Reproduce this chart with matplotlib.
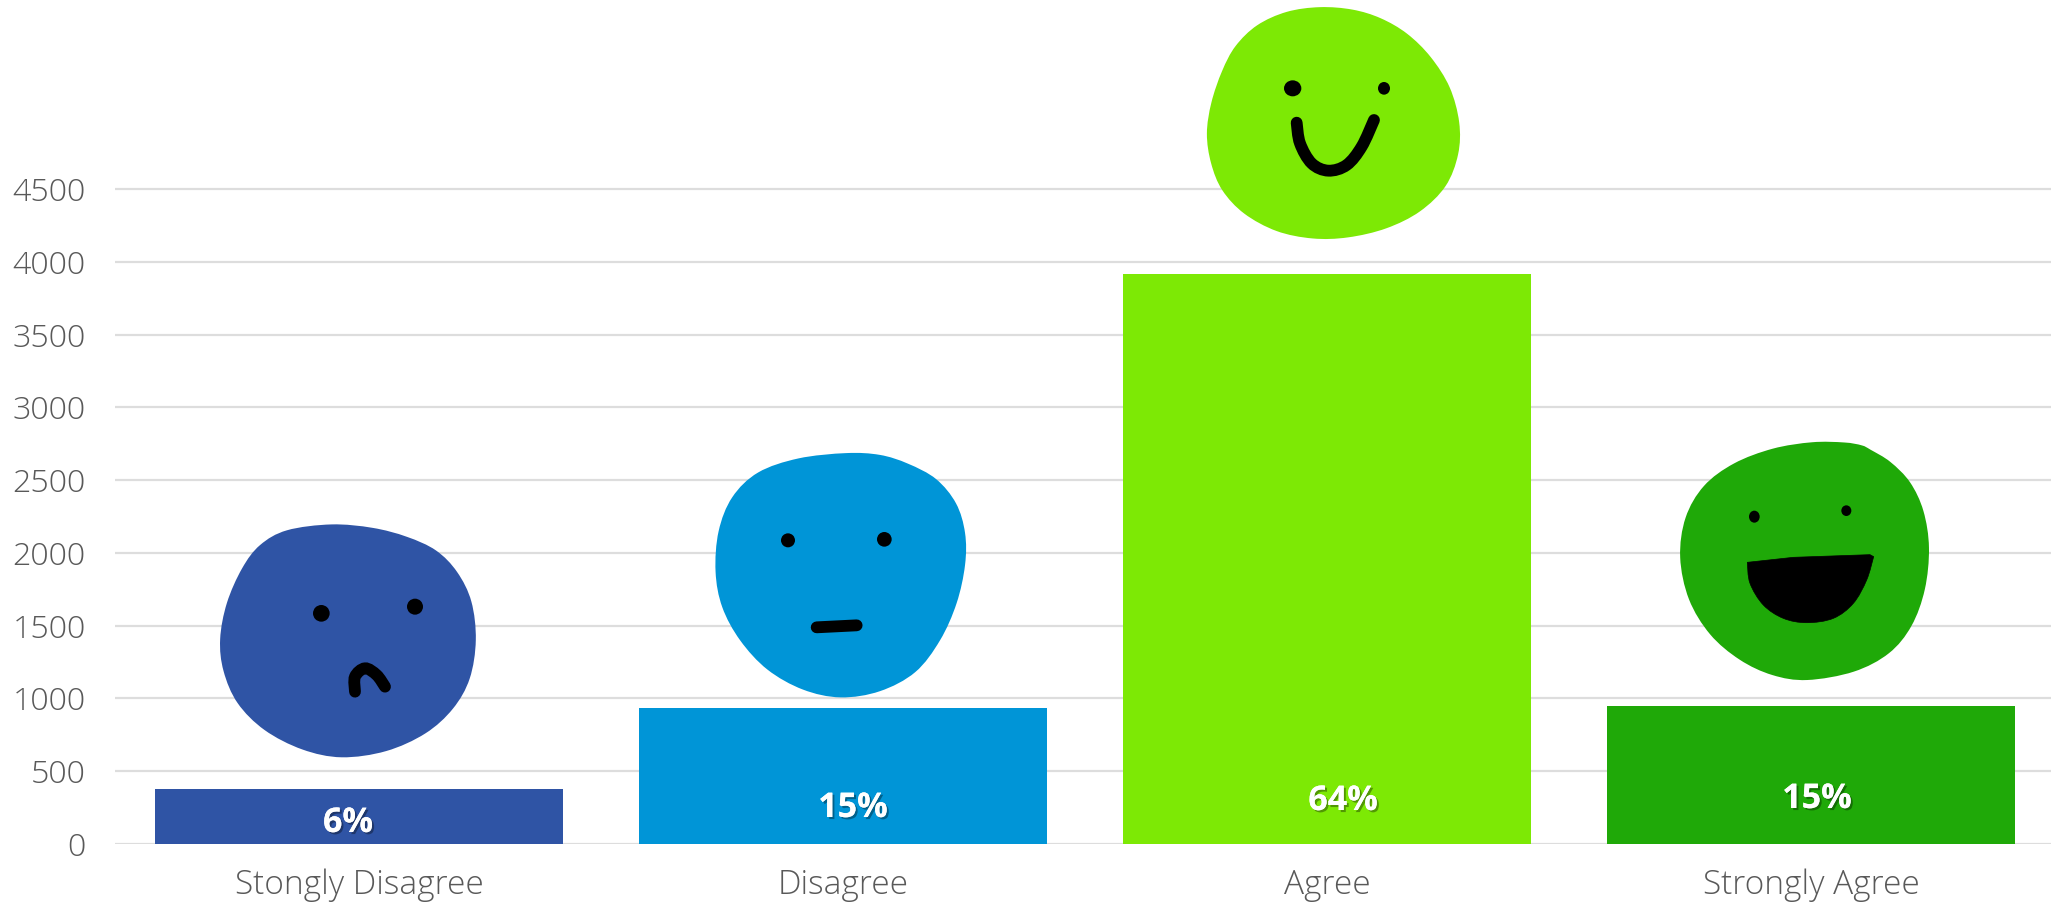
#Bar chart of survey answers with a hand drawn face above each bar
import matplotlib
matplotlib.use('Agg')
import matplotlib.pyplot as plt
import matplotlib.patheffects as pe
import numpy as np
from matplotlib.patches import Ellipse, PathPatch
from matplotlib.path import Path
from matplotlib.transforms import Affine2D

W, H = 2051, 902

categories = ['Stongly Disagree', 'Disagree', 'Agree', 'Strongly Agree']
counts = [375, 937, 3920, 945]
share_labels = ['6%', '15%', '64%', '15%']
bar_colors = ['#2F54A5', '#0095D7', '#7DE905', '#1FA908']
y_ticks = [0, 500, 1000, 1500, 2000, 2500, 3000, 3500, 4000, 4500]

#Pixel positions of the share labels
share_pos = [(348, 823), (853, 808), (1343, 801), (1817, 799)]

#Face sketches in pixels, each given as origin + points at 3x
sad_origin = (200, 500)
sad_outline = [(400,72),(520,85),(620,112),(710,150),(770,215),(815,300),(828,420),(810,540),(760,625),(680,700),(560,755),(420,775),(310,750),(190,690),(110,610),(70,510),(60,420),(80,310),(130,200),(180,135),(250,90)]
sad_eyes = [(364,340,25,25),(645,320,24,24)]
sad_mouth = [(465,575),(465,530),(495,505),(530,525),(555,560)]

flat_origin = (700, 440)
flat_outline = [(450,40),(540,45),(620,72),(710,115),(770,190),(795,280),(795,370),(770,490),(720,600),(650,700),(540,755),(420,775),(310,750),(200,690),(120,600),(65,500),(47,400),(55,270),(95,170),(170,95),(290,55)]
flat_eyes = [(264,301,21,21),(553,298,22,22)]
flat_mouth = [(350,562),(410,559),(470,556)]

smile_origin = (1180, 0)
smile_outline = [(420,22),(520,30),(600,55),(680,100),(750,170),(810,260),(838,370),(835,460),(800,560),(720,635),(620,685),(500,712),(400,715),(290,695),(190,640),(125,570),(95,490),(80,400),(95,310),(130,210),(165,140),(230,75),(320,35)]
smile_eyes = [(338,265,26,24),(612,265,18,19)]
smile_mouth = [(350,368),(360,430),(395,490),(445,512),(500,495),(545,440),(582,360)]

grin_origin = (1660, 430)
grin_outline = [(460,37),(560,40),(610,50),(620,58),(690,95),(750,155),(790,240),(808,350),(795,480),(755,590),(690,670),(590,725),(430,753),(340,735),(240,690),(150,615),(85,510),(58,380),(75,260),(130,165),(220,100),(340,55)]
grin_eyes = [(283,260,16,18),(559,242,15,16)]
grin_mouth_top = [(262,397),(400,382),(630,374)]
grin_mouth_curve = [(641,380),(620,450),(580,520),(520,565),(440,578),(370,565),(310,525),(270,460),(262,397)]


def to_px(points, origin):
    return np.array(points, dtype=float) / 3 + origin


def smooth_closed(pts):
    #Take the wobble out of a traced outline, growing it back a little after
    out = (np.roll(pts, 1, axis=0) + 4*pts + np.roll(pts, -1, axis=0)) / 6
    mid = out.mean(axis=0)
    return mid + (out - mid) * 1.012


def spline_path(pts, closed):
    #Catmull-Rom through the points, written as cubic bezier segments
    n = len(pts)
    verts = [pts[0]]
    codes = [Path.MOVETO]
    for i in range(n if closed else n - 1):
        if closed:
            p0, p1, p2, p3 = pts[(i-1) % n], pts[i], pts[(i+1) % n], pts[(i+2) % n]
        else:
            p0, p1, p2, p3 = pts[max(i-1, 0)], pts[i], pts[i+1], pts[min(i+2, n-1)]
        verts += [p1 + (p2 - p0) / 6, p2 - (p3 - p1) / 6, p2]
        codes += [Path.CURVE4] * 3
    return Path(verts, codes)


fig = plt.figure(figsize=(W/100, H/100), dpi=100)
ax = fig.add_axes([115/W, 1 - 844/H, 1 - 115/W, 844/H])

ax.bar(range(4), counts, width=0.843, color=bar_colors, zorder=2)

ax.set_xlim(-0.505, 3.495)
ax.set_ylim(0, 5800)
ax.set_yticks(y_ticks)
ax.set_xticks(range(4))
ax.set_xticklabels(categories, fontsize=24, family='Open Sans', weight='light', color='#595959')
ax.set_yticklabels([str(v) for v in y_ticks], fontsize=23.2, family='Open Sans', weight='light', color='#595959')
ax.tick_params(axis='both', length=0)
ax.tick_params(axis='y', pad=21)
ax.tick_params(axis='x', pad=18)
ax.grid(axis='y', color='#DDDDDD', linewidth=1.6, zorder=0)
ax.set_axisbelow(True)
for s in ax.spines.values():
    s.set_visible(False)

#Everything below is placed in image pixels, y going down
px = Affine2D().scale(1/W, -1/H).translate(0, 1) + fig.transFigure

faces = [
    (sad_origin, sad_outline, sad_eyes, sad_mouth, bar_colors[0]),
    (flat_origin, flat_outline, flat_eyes, flat_mouth, bar_colors[1]),
    (smile_origin, smile_outline, smile_eyes, smile_mouth, bar_colors[2]),
    (grin_origin, grin_outline, grin_eyes, None, bar_colors[3]),
]
for origin, outline, eyes, mouth, color in faces:
    ax.add_patch(PathPatch(spline_path(smooth_closed(to_px(outline, origin)), True), facecolor=color,
                           edgecolor='none', transform=px, zorder=3, clip_on=False))
    for ex, ey, rx, ry in eyes:
        cx, cy = to_px([(ex, ey)], origin)[0]
        ax.add_patch(Ellipse((cx, cy), 2*rx/3, 2*ry/3, facecolor='black', edgecolor='none',
                             transform=px, zorder=4, clip_on=False))
    if mouth is not None:
        ax.add_patch(PathPatch(spline_path(to_px(mouth, origin), False), facecolor='none',
                               edgecolor='black', linewidth=8.5, capstyle='round',
                               transform=px, zorder=4, clip_on=False))

#The open mouth is a straight top edge closed by a curve
curve = spline_path(to_px(grin_mouth_curve, grin_origin), False)
top = to_px(grin_mouth_top, grin_origin)
grin_verts = np.vstack([curve.vertices, top[1:], curve.vertices[:1]])
grin_codes = list(curve.codes) + [Path.LINETO] * 3
ax.add_patch(PathPatch(Path(grin_verts, grin_codes), facecolor='black', edgecolor='black', linewidth=0.5,
                       joinstyle='round', transform=px, zorder=4, clip_on=False))

shadow = [pe.withSimplePatchShadow(offset=(1.5, -1.5), shadow_rgbFace='black', alpha=0.35), pe.Normal()]
for (x, y), label in zip(share_pos, share_labels):
    ax.text(x, y, label, transform=px, ha='center', va='center', color='white',
            fontsize=24.5, family='Open Sans', weight='bold', zorder=5, path_effects=shadow)

fig.savefig('out.png', dpi=100)
